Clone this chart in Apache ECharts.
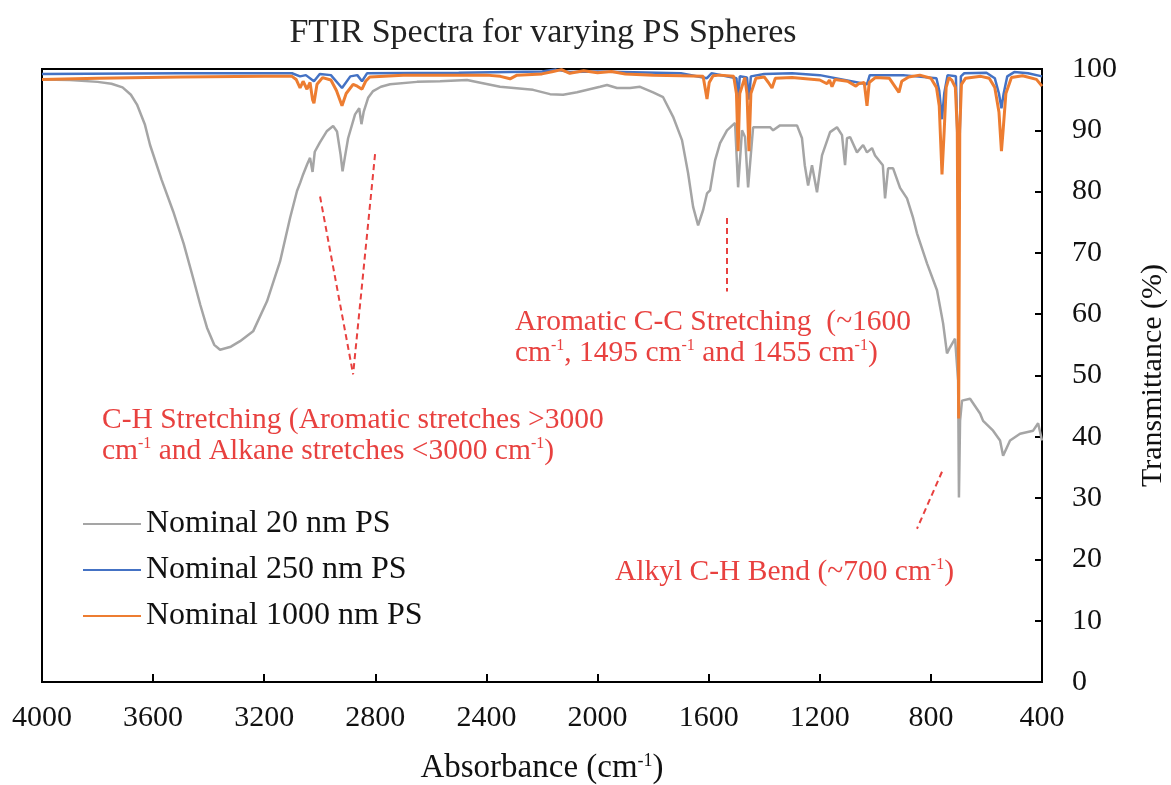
<!DOCTYPE html>
<html>
<head>
<meta charset="utf-8">
<title>FTIR Spectra for varying PS Spheres</title>
<script src="https://cdn.jsdelivr.net/npm/echarts@6/dist/echarts.min.js"></script>
<style>
  html, body { margin: 0; padding: 0; background: #ffffff; }
  #chart { width: 1171px; height: 785px; }
</style>
</head>
<body>
<div id="chart"></div>
<script>
// ---- spectra: [wavenumber (cm-1), transmittance (%)] ----
const ps20nm = [
  [4000, 98.3], [3900, 98.2], [3800, 97.9], [3750, 97.6], [3710, 97.0], [3680, 95.8],
  [3658, 94.2], [3630, 91.0], [3611, 87.6], [3570, 82.0], [3528, 76.8], [3490, 71.5],
  [3456, 65.9], [3430, 61.5], [3406, 57.8], [3380, 55.0], [3359, 54.2], [3320, 54.7],
  [3287, 55.6], [3240, 57.2], [3190, 62.1], [3143, 68.6], [3107, 75.7], [3082, 80.1],
  [3070, 81.5], [3060, 82.8], [3045, 84.5], [3035, 85.5], [3026, 83.2], [3018, 86.5],
  [3000, 88.0], [2974, 89.9], [2952, 90.7], [2938, 89.8], [2925, 86.0], [2918, 83.3],
  [2910, 85.5], [2898, 88.7], [2873, 92.6], [2858, 93.6], [2850, 91.0], [2842, 93.0],
  [2826, 95.3], [2808, 96.4], [2780, 97.1], [2747, 97.5], [2650, 97.9], [2567, 98.0],
  [2470, 98.2], [2351, 97.1], [2232, 96.6], [2171, 95.9], [2124, 95.8], [2074, 96.2],
  [1991, 97.1], [1966, 97.4], [1930, 96.9], [1883, 96.9], [1847, 97.1], [1800, 96.2],
  [1764, 95.4], [1728, 92.2], [1696, 88.4], [1674, 83.0], [1656, 77.5], [1638, 74.5],
  [1620, 77.0], [1606, 79.7], [1595, 80.2], [1577, 85.1], [1559, 87.9], [1534, 90.0],
  [1505, 91.2], [1494, 80.7], [1480, 90.0], [1469, 88.9], [1458, 80.7], [1440, 90.5],
  [1379, 90.5], [1368, 90.0], [1343, 90.8], [1282, 90.8], [1264, 88.7], [1254, 84.3],
  [1242, 81.0], [1228, 84.3], [1210, 79.9], [1192, 85.9], [1163, 89.7], [1138, 90.5],
  [1120, 89.2], [1109, 84.3], [1102, 88.7], [1091, 88.9], [1066, 86.4], [1044, 87.6],
  [1030, 86.4], [1012, 87.1], [1001, 85.9], [973, 84.3], [965, 78.9], [954, 83.8],
  [936, 83.8], [911, 80.6], [886, 78.9], [864, 75.7], [850, 73.2], [814, 68.3],
  [778, 63.9], [756, 58.5], [742, 53.6], [731, 54.6], [713, 56.0], [706, 56.2],
  [702, 49.2], [699, 30.1], [695, 42.6], [688, 45.9], [659, 46.2], [623, 43.8],
  [612, 42.6], [576, 41.0], [551, 39.4], [540, 36.9], [515, 39.4], [479, 40.5],
  [432, 41.0], [414, 42.2], [400, 39.4]
];

const ps250nm = [
  [4000, 99.2], [3500, 99.3], [3100, 99.3], [3071, 98.8], [3050, 99.0], [3021, 98.0],
  [3000, 99.2], [2960, 99.0], [2920, 96.9], [2890, 98.8], [2865, 99.0], [2848, 98.0],
  [2830, 99.3], [2500, 99.4], [2200, 99.6], [2150, 99.9], [2100, 99.5], [2000, 99.6],
  [1700, 99.3], [1606, 98.5], [1590, 99.3], [1500, 98.5], [1494, 95.0], [1488, 98.8],
  [1462, 98.6], [1455, 95.0], [1448, 98.8], [1400, 99.2], [1300, 99.3], [1200, 99.0],
  [1030, 97.5], [1020, 99.0], [900, 99.0], [780, 98.5], [770, 96.5], [760, 91.8],
  [752, 96.0], [740, 99.0], [710, 98.8], [700, 80.0], [692, 98.8], [680, 99.3],
  [600, 99.4], [570, 98.5], [555, 96.0], [546, 93.6], [538, 96.0], [525, 98.8],
  [500, 99.5], [450, 99.3], [400, 98.8]
];

const ps1000nm = [
  [4000, 98.3], [3800, 98.5], [3500, 98.7], [3200, 98.8], [3100, 98.8], [3085, 98.3],
  [3071, 96.9], [3060, 98.0], [3046, 96.7], [3035, 97.8], [3026, 95.0], [3021, 94.4],
  [3010, 97.5], [2990, 98.6], [2960, 98.2], [2940, 96.5], [2920, 94.0], [2905, 96.0],
  [2880, 97.5], [2865, 97.2], [2848, 96.7], [2835, 98.0], [2820, 98.7], [2700, 99.0],
  [2400, 99.0], [2350, 98.8], [2315, 98.4], [2290, 99.0], [2200, 99.2], [2160, 99.6],
  [2130, 99.9], [2100, 99.3], [2050, 99.7], [2000, 99.4], [1950, 99.6], [1900, 99.2],
  [1800, 99.0], [1700, 98.9], [1620, 98.8], [1606, 95.1], [1598, 97.8], [1584, 98.9],
  [1560, 99.0], [1510, 98.8], [1500, 96.0], [1494, 86.6], [1488, 96.0], [1470, 98.6],
  [1462, 96.0], [1455, 86.6], [1448, 96.0], [1430, 98.5], [1400, 98.7], [1385, 97.8],
  [1372, 96.9], [1360, 98.5], [1300, 98.6], [1200, 98.2], [1174, 97.6], [1165, 98.2],
  [1156, 97.1], [1145, 98.3], [1100, 98.0], [1070, 97.2], [1060, 97.6], [1040, 97.8],
  [1030, 94.0], [1022, 97.8], [1000, 98.6], [950, 98.5], [915, 96.2], [905, 98.0],
  [880, 98.7], [840, 99.0], [800, 98.5], [780, 97.0], [770, 94.0], [760, 82.8],
  [752, 90.0], [745, 97.0], [735, 98.6], [725, 98.2], [712, 97.0], [705, 90.0],
  [700, 43.0], [696, 90.0], [690, 97.5], [675, 98.5], [620, 98.8], [590, 98.5],
  [570, 97.0], [555, 93.0], [546, 86.6], [540, 90.0], [530, 96.0], [510, 98.6],
  [470, 98.9], [420, 98.3], [400, 97.2]
];

const seriesNames = ['Nominal 20 nm PS', 'Nominal 250 nm PS', 'Nominal 1000 nm PS'];
const seriesColors = ['#a5a5a5', '#4472c4', '#ed7d31'];

// axis ranges and tick steps
const xRange = [400, 4000];
const xStep = 400;
const yRange = [0, 100];
const yStep = 10;

// dashed leader lines for the band annotations, in (cm-1, %T)
const chLeaders = [
  [[2999, 79.2], [2880, 50.2]],
  [[2801, 86.1], [2880, 50.2]]
];
const ccLeaders = [
  [[1534, 75.7], [1534, 63.7]]
];
const bendLeaders = [
  [[760, 34.3], [850, 25.0]]
];

const SERIF = '"Liberation Serif", "Times New Roman", serif';
const RED = '#e8413f';
const ANN_SIZE = 29.5;

const chart = echarts.init(document.getElementById('chart'), null, { renderer: 'canvas' });

const leaderData = [].concat(chLeaders, ccLeaders, bendLeaders)
  .map(seg => [{ coord: seg[0] }, { coord: seg[1] }]);

// annotation text with superscript support
const annRich = {
  n: { fontFamily: SERIF, fontSize: ANN_SIZE, fill: RED, color: RED, lineHeight: 30 },
  s: { fontFamily: SERIF, fontSize: 16, fill: RED, color: RED, verticalAlign: 'top', lineHeight: 16 }
};
function annText(x, y, text) {
  return {
    type: 'text', x: x, y: y, silent: true,
    style: { text: text, rich: annRich, fontFamily: SERIF, fontSize: ANN_SIZE, fill: RED,
             textVerticalAlign: 'middle', verticalAlign: 'middle' }
  };
}

const option = {
  animation: false,
  backgroundColor: '#ffffff',
  title: {
    text: 'FTIR Spectra for varying PS Spheres',
    left: 538, top: 11, textAlign: 'center',
    textStyle: { fontFamily: SERIF, fontSize: 34, fontWeight: 'normal', color: '#222' }
  },
  grid: {
    left: 42, right: 129, top: 69, bottom: 103,
    show: true, borderColor: '#000', borderWidth: 2,
    outerBoundsMode: 'none'
  },
  legend: {
    orient: 'vertical', left: 82, top: 508, padding: 0,
    itemWidth: 58, itemHeight: 14, itemGap: 14,
    selectedMode: false,
    itemStyle: { opacity: 0 },
    textStyle: { fontFamily: SERIF, fontSize: 32, color: '#111' },
    data: seriesNames
  },
  xAxis: {
    type: 'value', inverse: true,
    min: xRange[0], max: xRange[1], interval: xStep,
    splitLine: { show: false },
    axisLine: { show: true, lineStyle: { color: '#000', width: 2 } },
    axisTick: { show: true, inside: true, length: 8, lineStyle: { color: '#000', width: 2 } },
    axisLabel: { fontFamily: SERIF, fontSize: 30, color: '#111', margin: 21,
                 formatter: v => String(v) },
    name: '{n|Absorbance (cm}{s|-1}{n|)}',
    nameLocation: 'middle', nameGap: 70,
    nameTextStyle: {
      rich: {
        n: { fontFamily: SERIF, fontSize: 33, color: '#111', lineHeight: 33 },
        s: { fontFamily: SERIF, fontSize: 18, color: '#111', verticalAlign: 'top', lineHeight: 18 }
      }
    }
  },
  yAxis: {
    type: 'value', position: 'right',
    min: yRange[0], max: yRange[1], interval: yStep,
    splitLine: { show: false },
    axisLine: { show: true, lineStyle: { color: '#000', width: 2 } },
    axisTick: { show: true, inside: true, length: 7, lineStyle: { color: '#000', width: 2 } },
    axisLabel: { fontFamily: SERIF, fontSize: 30, color: '#111', margin: 30, align: 'left',
                 formatter: v => String(v) },
    name: 'Transmittance (%)',
    nameLocation: 'middle', nameRotate: 90, nameGap: 96,
    nameTextStyle: { fontFamily: SERIF, fontSize: 30, color: '#111' }
  },
  series: [
    {
      name: seriesNames[0], type: 'line', data: ps20nm, symbol: 'none',
      lineStyle: { color: seriesColors[0], width: 2.5 }, itemStyle: { color: seriesColors[0] },
      z: 2,
      markLine: {
        silent: true, symbol: ['none', 'none'], label: { show: false },
        lineStyle: { color: RED, type: [6, 4], width: 2 },
        emphasis: { disabled: true },
        data: leaderData
      }
    },
    {
      name: seriesNames[1], type: 'line', data: ps250nm, symbol: 'none',
      lineStyle: { color: seriesColors[1], width: 2.5 }, itemStyle: { color: seriesColors[1] },
      z: 3
    },
    {
      name: seriesNames[2], type: 'line', data: ps1000nm, symbol: 'none',
      lineStyle: { color: seriesColors[2], width: 3 }, itemStyle: { color: seriesColors[2] },
      z: 4
    }
  ],
  graphic: [
    annText(102, 420, '{n|C-H Stretching (Aromatic stretches >3000}'),
    annText(102, 451, '{n|cm}{s|-1}{n| and Alkane stretches <3000 cm}{s|-1}{n|)}'),
    annText(515, 322, '{n|Aromatic C-C Stretching  (~1600}'),
    annText(515, 353, '{n|cm}{s|-1}{n|, 1495 cm}{s|-1}{n| and 1455 cm}{s|-1}{n|)}'),
    annText(615, 572, '{n|Alkyl C-H Bend (~700 cm}{s|-1}{n|)}')
  ]
};

chart.setOption(option);
</script>
</body>
</html>
